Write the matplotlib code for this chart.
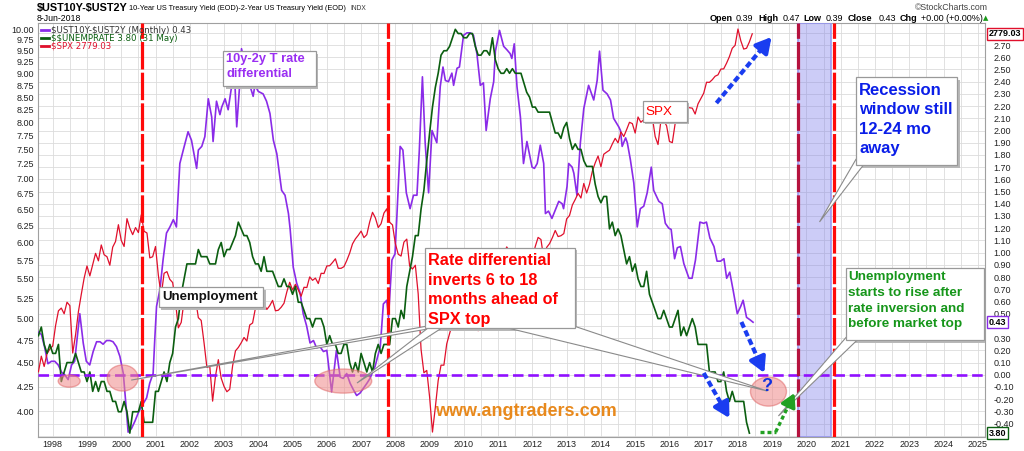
import numpy as np
import matplotlib
matplotlib.use('Agg')
import matplotlib.pyplot as plt
import matplotlib.transforms as mtransforms
from matplotlib.patches import Ellipse, Rectangle, Polygon
from matplotlib.ticker import NullLocator

plt.rcParams['font.family'] = ['Liberation Sans', 'DejaVu Sans']

# ---------------- data ----------------
# monthly series start in Aug 1997 (plotted at month start)
start_year, start_month = 1997, 8

# $$UNEMPRATE, Aug 1997 .. May 2018
unemp = [4.8, 4.9, 4.7, 4.6, 4.7,
         4.6, 4.6, 4.7, 4.3, 4.4, 4.5, 4.5, 4.5, 4.6, 4.5, 4.4, 4.4,
         4.3, 4.4, 4.2, 4.3, 4.2, 4.3, 4.3, 4.2, 4.2, 4.1, 4.1, 4.0,
         4.0, 4.1, 4.0, 3.8, 4.0, 4.0, 4.0, 4.1, 3.9, 3.9, 3.9, 3.9,
         4.2, 4.2, 4.3, 4.4, 4.3, 4.5, 4.6, 4.9, 5.0, 5.3, 5.5, 5.7,
         5.7, 5.7, 5.7, 5.9, 5.8, 5.8, 5.8, 5.7, 5.7, 5.7, 5.9, 6.0,
         5.8, 5.9, 5.9, 6.0, 6.1, 6.3, 6.2, 6.1, 6.1, 6.0, 5.8, 5.7,
         5.7, 5.6, 5.8, 5.6, 5.6, 5.6, 5.5, 5.4, 5.4, 5.5, 5.4, 5.4,
         5.3, 5.4, 5.2, 5.2, 5.1, 5.0, 5.0, 4.9, 5.0, 5.0, 5.0, 4.9,
         4.7, 4.8, 4.7, 4.7, 4.6, 4.6, 4.7, 4.7, 4.5, 4.4, 4.5, 4.4,
         4.6, 4.5, 4.4, 4.5, 4.4, 4.6, 4.7, 4.6, 4.7, 4.7, 4.7, 5.0,
         5.0, 4.9, 5.1, 5.0, 5.4, 5.6, 5.8, 6.1, 6.1, 6.5, 6.8, 7.3,
         7.8, 8.3, 8.7, 9.0, 9.4, 9.5, 9.5, 9.6, 9.8, 10.0, 9.9, 9.9,
         9.8, 9.8, 9.9, 9.9, 9.6, 9.4, 9.4, 9.5, 9.5, 9.4, 9.8, 9.3,
         9.1, 9.0, 9.0, 9.1, 9.0, 9.1, 9.0, 9.0, 9.0, 8.8, 8.6, 8.5,
         8.3, 8.3, 8.2, 8.2, 8.2, 8.2, 8.2, 8.0, 7.8, 7.8, 7.7, 7.9,
         8.0, 7.7, 7.5, 7.6, 7.5, 7.5, 7.3, 7.2, 7.2, 7.2, 6.9, 6.7,
         6.6, 6.7, 6.7, 6.2, 6.3, 6.1, 6.2, 6.1, 5.9, 5.7, 5.8, 5.6,
         5.7, 5.5, 5.4, 5.4, 5.6, 5.3, 5.2, 5.1, 5.0, 5.0, 5.1, 5.0,
         4.9, 4.9, 5.0, 5.1, 4.8, 4.9, 4.8, 4.9, 5.0, 4.9, 4.7, 4.7,
         4.7, 4.7, 4.4, 4.4, 4.4, 4.3, 4.3, 4.4, 4.2, 4.1, 4.2, 4.1,
         4.1, 4.1, 4.1, 3.9, 3.8]

# $SPX monthly close, Aug 1997 .. Jun 2018
spx = [899, 947, 915, 955, 970,
       980, 1049, 1102, 1112, 1091, 1134, 1121, 957, 1017, 1099, 1164, 1229,
       1280, 1238, 1286, 1335, 1302, 1373, 1329, 1320, 1283, 1363, 1389, 1469,
       1394, 1366, 1499, 1452, 1421, 1455, 1431, 1518, 1437, 1429, 1315, 1320,
       1366, 1240, 1160, 1249, 1256, 1224, 1211, 1134, 1041, 1060, 1139, 1148,
       1130, 1107, 1147, 1077, 1067, 990, 912, 916, 815, 886, 936, 880,
       856, 841, 848, 917, 964, 975, 990, 1008, 996, 1051, 1058, 1112,
       1131, 1145, 1126, 1107, 1121, 1141, 1102, 1104, 1115, 1130, 1174, 1212,
       1181, 1204, 1181, 1157, 1192, 1191, 1234, 1220, 1229, 1207, 1249, 1248,
       1280, 1281, 1295, 1311, 1270, 1270, 1277, 1304, 1336, 1378, 1401, 1418,
       1438, 1407, 1421, 1482, 1531, 1503, 1455, 1474, 1527, 1549, 1481, 1468,
       1379, 1331, 1323, 1386, 1400, 1280, 1267, 1283, 1166, 969, 896, 903,
       826, 735, 798, 873, 919, 919, 987, 1021, 1057, 1036, 1096, 1115,
       1074, 1104, 1169, 1187, 1089, 1031, 1102, 1049, 1141, 1183, 1181, 1258,
       1286, 1327, 1326, 1364, 1345, 1321, 1292, 1219, 1131, 1253, 1247, 1258,
       1312, 1366, 1408, 1398, 1310, 1362, 1379, 1407, 1441, 1412, 1416, 1426,
       1498, 1515, 1569, 1598, 1631, 1606, 1686, 1633, 1682, 1757, 1806, 1848,
       1783, 1859, 1872, 1884, 1924, 1960, 1931, 2003, 1972, 2018, 2068, 2059,
       1995, 2105, 2068, 2086, 2107, 2063, 2104, 1972, 1920, 2079, 2080, 2044,
       1940, 1932, 2060, 2065, 2097, 2099, 2174, 2171, 2168, 2126, 2199, 2239,
       2279, 2364, 2363, 2384, 2412, 2423, 2470, 2472, 2519, 2575, 2648, 2674,
       2824, 2714, 2641, 2648, 2705, 2779]
spx_last = 2779.03

# $UST10Y-$UST2Y (decimal year, spread)
spread_t = [1997.57, 1997.67, 1997.76, 1997.86, 1997.96, 1998.06, 1998.16, 1998.26, 1998.35, 1998.45,
            1998.55, 1998.64, 1998.79, 1998.89, 1998.98, 1999.08, 1999.18, 1999.28, 1999.38, 1999.47,
            1999.57, 1999.67, 1999.76, 1999.86, 1999.96, 2000.06, 2000.15, 2000.20, 2000.30, 2000.40,
            2000.50, 2000.59, 2000.74, 2000.83, 2000.93, 2000.98, 2001.03, 2001.13, 2001.22, 2001.32,
            2001.42, 2001.52, 2001.61, 2001.71, 2001.81, 2001.95, 2002.05, 2002.20, 2002.25, 2002.35,
            2002.44, 2002.54, 2002.64, 2002.68, 2002.78, 2002.88, 2002.93, 2003.03, 2003.12, 2003.22,
            2003.32, 2003.37, 2003.46, 2003.51, 2003.66, 2003.72, 2003.85, 2003.90, 2004.00, 2004.14,
            2004.24, 2004.34, 2004.44, 2004.54, 2004.68, 2004.78, 2004.88, 2004.93, 2005.02, 2005.12,
            2005.22, 2005.31, 2005.41, 2005.51, 2005.61, 2005.70, 2005.80, 2005.90, 2006.00, 2006.14,
            2006.28, 2006.39, 2006.48, 2006.58, 2006.68, 2006.77, 2006.87, 2006.97, 2007.07, 2007.17,
            2007.26, 2007.41, 2007.56, 2007.65, 2007.75, 2007.80, 2007.90, 2007.99, 2008.04, 2008.14,
            2008.22, 2008.32, 2008.43, 2008.53, 2008.63, 2008.70, 2008.79, 2008.87, 2008.97, 2009.07,
            2009.21, 2009.31, 2009.39, 2009.46, 2009.55, 2009.65, 2009.70, 2009.80, 2009.87, 2009.99,
            2010.09, 2010.19, 2010.28, 2010.38, 2010.48, 2010.57, 2010.65, 2010.77, 2010.87, 2010.92,
            2011.04, 2011.16, 2011.26, 2011.35, 2011.40, 2011.47, 2011.55, 2011.65, 2011.74, 2011.84,
            2011.89, 2011.99, 2012.06, 2012.14, 2012.23, 2012.33, 2012.38, 2012.47, 2012.57, 2012.67,
            2012.77, 2012.87, 2012.91, 2013.01, 2013.06, 2013.16, 2013.21, 2013.30, 2013.40, 2013.50,
            2013.64, 2013.79, 2013.89, 2013.96, 2014.06, 2014.18, 2014.28, 2014.37, 2014.52, 2014.57,
            2014.62, 2014.72, 2014.77, 2014.86, 2014.96, 2015.06, 2015.15, 2015.25, 2015.35, 2015.47,
            2015.54, 2015.69, 2015.79, 2015.88, 2015.98, 2016.05, 2016.15, 2016.23, 2016.32, 2016.42,
            2016.57, 2016.66, 2016.76, 2016.89, 2017.00, 2017.08, 2017.18, 2017.30, 2017.39, 2017.49,
            2017.59, 2017.67, 2017.76, 2017.86, 2017.98, 2018.08, 2018.15, 2018.25, 2018.35, 2018.44]
spread_v = [0.35, 0.33, 0.23, 0.09, 0.11, 0.11, 0.08, 0.02, 0.00, -0.04,
            0.08, 0.11, 0.50, 0.26, 0.11, 0.08, 0.19, 0.27, 0.27, 0.25,
            0.28, 0.28, 0.27, 0.23, 0.15, 0.01, -0.29, -0.47, -0.44, -0.38,
            -0.31, -0.26, -0.19, -0.07, 0.01, 0.30, 0.56, 0.70, 0.94, 1.16,
            1.21, 1.27, 1.21, 1.73, 1.84, 1.99, 1.92, 1.69, 1.84, 1.87,
            1.95, 2.26, 2.11, 1.91, 2.24, 2.13, 2.19, 2.26, 2.17, 2.36,
            2.37, 2.03, 2.39, 2.67, 2.47, 2.40, 2.28, 2.37, 2.32, 2.30,
            2.24, 2.14, 1.92, 1.81, 1.51, 1.47, 1.32, 1.19, 0.88, 0.75,
            0.67, 0.50, 0.40, 0.26, 0.28, 0.22, 0.23, 0.19, 0.20, -0.14,
            0.20, -0.02, -0.03, 0.01, -0.07, -0.12, -0.17, -0.15, -0.11, -0.07,
            -0.03, 0.07, 0.23, 0.58, 0.61, 0.47, 0.94, 0.99, 1.27, 1.87,
            1.84, 1.49, 1.36, 1.47, 1.47, 1.84, 2.44, 1.90, 1.49, 2.00,
            1.90, 2.36, 2.52, 2.41, 2.40, 2.47, 2.37, 2.51, 2.52, 2.78,
            2.80, 2.80, 2.78, 2.63, 2.37, 2.39, 2.00, 2.26, 2.40, 2.65,
            2.82, 2.69, 2.66, 2.63, 2.59, 2.71, 2.36, 2.11, 1.73, 1.91,
            1.84, 1.70, 1.69, 1.73, 1.88, 1.73, 1.32, 1.34, 1.28, 1.35,
            1.42, 1.40, 1.36, 1.54, 1.73, 1.70, 1.65, 1.47, 1.90, 2.18,
            2.37, 2.25, 2.41, 2.65, 2.33, 2.30, 2.25, 2.10, 2.03, 2.00,
            1.87, 1.94, 1.90, 1.76, 1.57, 1.21, 1.36, 1.38, 1.49, 1.70,
            1.51, 1.42, 1.40, 1.24, 1.20, 1.19, 0.95, 1.04, 1.05, 0.91,
            0.79, 0.79, 0.94, 1.25, 1.24, 1.25, 1.12, 1.05, 0.93, 0.93,
            0.95, 0.79, 0.84, 0.69, 0.50, 0.56, 0.61, 0.47, 0.45, 0.43]

years = list(range(1998, 2026))
unemp_ticks = [4.0 + 0.25 * k for k in range(25)]
spread_ticks = [round(-0.5 + 0.1 * k, 2) for k in range(34)]

# annotation places (decimal year)
signal_lines = [2000.61, 2007.78]
recession_window = (2019.76, 2020.72)

# ---------------- figure ----------------
W, H = 1024, 451
fig = plt.figure(figsize=(W / 100, H / 100), dpi=100)
rect = [38 / W, 14 / H, 947 / W, 414.3 / H]
XLIM = (1997.57, 2025.21)


def fx(x):
    return x / W


def fy(y):
    return 1 - y / H


t_unemp = [start_year + (start_month - 1 + i) / 12 for i in range(len(unemp))]
t_spx = [start_year + (start_month - 1 + i) / 12 for i in range(len(spx))]

c_purple = '#8a2be8'
c_green = '#0b5e10'
c_red = '#e0102c'
c_tick = '#222222'

# purple spread axis (right scale) carries grid + background
ax = fig.add_axes(rect)
ax.set_xlim(XLIM)
ax.set_ylim(-0.51, 2.883)
ax.set_xticks(years)
ax.set_xticklabels([str(y) for y in years])
ax.set_xticks([y - 0.5 for y in years] + [2025.5], minor=True)
ax.set_yticks(spread_ticks)
ax.set_yticklabels(['' if v in (-0.5, 0.4, 2.8) else f'{v:.2f}' for v in spread_ticks])
ax.grid(which='both', color='#dcdcdc', lw=0.6)
ax.set_axisbelow(True)
for s in ax.spines.values():
    s.set_color('#a0a0a0')
    s.set_linewidth(0.8)
line_p, = ax.plot(spread_t, spread_v, color=c_purple, lw=1.2, zorder=3)

# S&P 500 on hidden log scale
ax_s = ax.twinx()
ax_s.set_yscale('log')
ax_s.set_ylim(723, 2884)
ax_s.yaxis.set_visible(False)
line_r, = ax_s.plot(t_spx, spx, color=c_red, lw=0.9)

# unemployment on left log scale
ax_u = ax.twinx()
ax_u.set_yscale('log')
ax_u.set_ylim(3.765, 10.16)
ax_u.set_yticks(unemp_ticks)
ax_u.set_yticklabels([f'{v:.2f}' for v in unemp_ticks])
ax_u.yaxis.set_minor_locator(NullLocator())
ax_u.yaxis.tick_left()
ax_u.tick_params(axis='y', length=0, pad=3, labelsize=6.5, colors=c_tick)
for s in list(ax_s.spines.values()) + list(ax_u.spines.values()):
    s.set_visible(False)
line_g, = ax_u.plot(t_unemp, unemp, color=c_green, lw=1.2)

# twinx moves the original ticks to the left, so put them back on the right
ax.yaxis.tick_right()
ax.tick_params(axis='y', which='both', length=0, pad=6, labelsize=6.5, colors=c_tick,
               left=False, labelleft=False, right=True, labelright=True)
ax.tick_params(axis='x', which='both', length=0, pad=2.5, labelsize=6.5, colors=c_tick)
ax.set_xlim(XLIM)

# overlay for annotations (same coordinates as the spread axis)
ann = fig.add_axes(rect)
ann.set_xlim(XLIM)
ann.set_ylim(ax.get_ylim())
ann.axis('off')

# zero line
ann.axhline(0, color='#9010ff', lw=1.9, dashes=(4, 1.8), zorder=2)

# vertical signal lines and recession window
for t in signal_lines:
    ann.axvline(t, color='#ff0a0a', lw=2.3, dashes=(8.6, 1.0), zorder=2)
ann.axvspan(recession_window[0], recession_window[1], color='#7b7bea', alpha=0.38, lw=0, zorder=1)
ann.axvspan(recession_window[0], recession_window[1], fc='none', ec='#9a9af0', lw=1.2, zorder=1)
ann.axvline(recession_window[0], color='#b5123e', lw=2.3, dashes=(8.6, 1.0), zorder=2)
ann.axvline(2020.80, color='#ff0a0a', lw=2.3, dashes=(8.6, 1.0), zorder=2)

# pink ellipses
for (cx, cy, w, h) in [(1998.48, -0.052, 0.64, 0.10), (2000.04, -0.027, 0.90, 0.213),
                       (2006.48, -0.052, 1.66, 0.197), (2018.89, -0.138, 1.05, 0.238)]:
    ann.add_patch(Ellipse((cx, cy), w, h, fc='#f08a8a', ec='#e06a6a', alpha=0.55, lw=1, zorder=4))
ann.text(2018.85, -0.10, '?', color='#1030e0', fontsize=13, fontweight='bold',
         ha='center', va='center', zorder=8)


def dashed_arrow(a, b, color, lw, dashes, head=(0.9, 0.5), frac=0.8):
    # dashed shaft, solid head
    mid = (a[0] + (b[0] - a[0]) * frac, a[1] + (b[1] - a[1]) * frac)
    ann.plot([a[0], mid[0]], [a[1], mid[1]], color=color, lw=lw, dashes=dashes,
             solid_capstyle='butt', dash_capstyle='butt', zorder=6)
    ann.annotate('', xy=b, xytext=mid,
                 arrowprops=dict(arrowstyle=f'-|>,head_length={head[0]},head_width={head[1]}',
                                 color=color, lw=lw, shrinkA=0, shrinkB=0, mutation_scale=10),
                 zorder=6)


for (a, b) in [((2017.37, 2.225), (2018.98, 2.766)),
               ((2018.10, 0.432), (2018.77, 0.014)),
               ((2017.00, 0.014), (2017.75, -0.355))]:
    dashed_arrow(a, b, '#1a3df0', 3.0, (1.5, 0.75))
ann.plot([2018.63, 2019.10], [-0.469, -0.469], color='#22a022', lw=2.4, dashes=(1.2, 0.9), zorder=6)
dashed_arrow((2019.10, -0.469), (2019.65, -0.15), '#22a022', 2.4, (1.2, 0.9), head=(0.8, 0.45), frac=0.65)

shadow_tr = mtransforms.offset_copy(ann.transData, fig=fig, x=2.5, y=-2.5, units='dots')


def callout(box, wedge, text, tx, ty, color, size, weight='bold', ls=1.2, va='top'):
    t0, t1, vt, vb = box
    if wedge is not None:
        ann.add_patch(Polygon(wedge, closed=True, fc='white', ec='#8a8a8a', lw=0.8, zorder=5))
    ann.add_patch(Rectangle((t0, vb), t1 - t0, vt - vb, transform=shadow_tr,
                            fc='#b8b8b8', ec='none', zorder=4.9))
    ann.add_patch(Rectangle((t0, vb), t1 - t0, vt - vb, fc='white', ec='#999999', lw=0.9, zorder=6))
    ann.text(tx, ty, text, color=color, fontsize=size, fontweight=weight, ha='left', va=va,
             linespacing=ls, zorder=7)


callout((2002.97, 2005.68, 2.651, 2.364), None, '10y-2y T rate\ndifferential',
        2003.06, 2.635, '#9a2ef2', 9.3, ls=1.3)
callout((2001.10, 2004.14, 0.718, 0.554), None, 'Unemployment',
        2001.21, 0.636, '#111111', 9.5, va='center')
ann.add_patch(Polygon([(2008.86, 0.395), (2009.06, 0.380), (2000.29, -0.044)], closed=True,
                      fc='white', ec='#8a8a8a', lw=0.8, zorder=5))
ann.add_patch(Polygon([(2008.95, 0.382), (2009.35, 0.382), (2006.88, -0.068)], closed=True,
                      fc='white', ec='#8a8a8a', lw=0.8, zorder=5))
callout((2008.86, 2013.23, 1.038, 0.382),
        [(2011.03, 0.40), (2013.20, 0.40), (2018.86, -0.134)],
        'Rate differential\ninverts 6 to 18\nmonths ahead of\nSPX top',
        2008.95, 0.995, '#ff0000', 11.7, ls=1.38)
callout((2015.22, 2016.50, 2.242, 2.070), None, 'SPX',
        2015.31, 2.155, '#ff0000', 9.7, weight='normal', va='center')
callout((2021.45, 2024.40, 2.438, 1.717),
        [(2021.45, 1.767), (2021.66, 1.717), (2020.38, 1.251)],
        'Recession\nwindow still\n12-24 mo\naway',
        2021.54, 2.392, '#0a1ee8', 12.0, ls=1.38)
callout((2021.16, 2025.19, 0.874, 0.284),
        [(2021.19, 0.317), (2021.48, 0.284), (2019.18, -0.338)],
        'Unemployment\nstarts to rise after\nrate inversion and\nbefore market top',
        2021.22, 0.849, '#16961a', 9.7, ls=1.42)

ann.text(2011.80, -0.305, 'www.angtraders.com', color='#e8891c', fontsize=13, fontweight='bold',
         ha='center', va='center', zorder=7)

# legend
leg = ann.legend([line_p, line_g, line_r],
                 [r'\$UST10Y-\$UST2Y (Monthly) 0.43', r'\$\$UNEMPRATE 3.80 (31 May)', r'\$SPX 2779.03'],
                 loc='upper left', bbox_to_anchor=(0.0, 1.0), frameon=False,
                 prop={'family': 'DejaVu Sans', 'size': 6.2}, handlelength=0.9, handletextpad=0.3,
                 labelspacing=-0.1, borderpad=0.15, borderaxespad=0.2)
for txt, c in zip(leg.get_texts(), ['#333333', c_green, c_red]):
    txt.set_color(c)
for h in leg.legend_handles:
    h.set_linewidth(2)

# last-value tags on the right scale
tag_kw = dict(fontsize=6.5, fontweight='bold', ha='left', va='center', color='black', zorder=9,
              clip_on=False)
ann.text(1.004, spx_last, f'{spx_last:.2f}',
         transform=mtransforms.blended_transform_factory(ann.transAxes, ax_s.transData),
         bbox=dict(boxstyle='square,pad=0.15', fc='white', ec=c_red, lw=1), **tag_kw)
ann.text(1.004, spread_v[-1], f'{spread_v[-1]:.2f}',
         transform=mtransforms.blended_transform_factory(ann.transAxes, ax.transData),
         bbox=dict(boxstyle='square,pad=0.15', fc='white', ec=c_purple, lw=1), **tag_kw)
ann.text(1.004, unemp[-1], f'{unemp[-1]:.2f}',
         transform=mtransforms.blended_transform_factory(ann.transAxes, ax_u.transData),
         bbox=dict(boxstyle='square,pad=0.15', fc='white', ec=c_green, lw=1), **tag_kw)

# header texts
fig.text(fx(37), fy(8), '$UST10Y-$UST2Y', fontsize=7.8, fontweight='bold', va='center',
         parse_math=False)
fig.text(fx(129), fy(8), '10-Year US Treasury Yield (EOD)-2-Year US Treasury Yield (EOD)',
         fontsize=5.3, va='center')
fig.text(fx(350), fy(8), 'INDX', fontsize=4.8, va='center', color='#333333')
fig.text(fx(37), fy(18.5), '8-Jun-2018', fontsize=6.3, va='center')
fig.text(fx(988), fy(7.5), '\u00a9StockCharts.com', fontsize=6.3, va='center', ha='right', color='#444444')
for (s, x, bold) in [('Open', 710, True), ('0.39', 736, False), ('High', 758, True), ('0.47', 783, False),
                     ('Low', 803, True), ('0.39', 826, False), ('Close', 848, True), ('0.43', 879, False),
                     ('Chg', 900, True), ('+0.00 (+0.00%)', 921, False)]:
    fig.text(fx(x), fy(18.5), s, fontsize=6.5, fontweight='bold' if bold else 'normal', va='center')
fig.text(fx(983), fy(18.5), '\u25b2', fontsize=5, va='center', color='#1a9a1a', family='DejaVu Sans')

fig.savefig('out.png', dpi=100)
